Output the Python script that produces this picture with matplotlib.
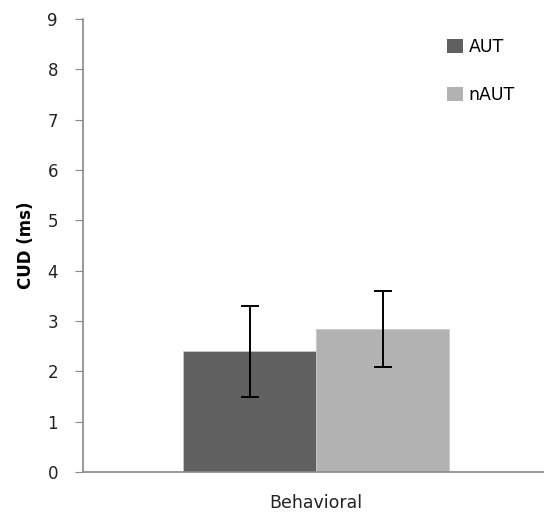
import matplotlib
matplotlib.use("Agg")
import matplotlib.pyplot as plt
from matplotlib.patches import Patch

categories = ["Behavioral"]
series = ["AUT", "nAUT"]
means = [2.40, 2.84]
err_low = [1.49, 2.09]
err_high = [3.30, 3.60]
colors = ["#606060", "#b2b2b2"]

plt.rcParams['font.family'] = ['DejaVu Sans']

fig = plt.figure(figsize=(5.44, 5.16), dpi=100)
ax = fig.add_axes([83/544, 44/516, 461/544, 453/516])

w = 0.5
offsets = [-w/2, w/2]
for i, s in enumerate(series):
    yerr = [[means[i] - err_low[i]], [err_high[i] - means[i]]]
    ax.bar(offsets[i], means[i], width=w, color=colors[i], edgecolor="#c8c8c8",
           linewidth=0.6, label=s)
    ax.errorbar(offsets[i], means[i], yerr=yerr, fmt='none', ecolor='black',
                elinewidth=1.4, capsize=6.5, capthick=1.4)

ax.set_xlim(-233/266, 228/266)
ax.set_ylim(0, 9)
ax.set_yticks(range(0, 10))
ax.set_xticks([0])
ax.set_xticklabels(categories, fontsize=12.5, color='#222222')
ax.tick_params(axis='x', length=0, pad=16)
ax.tick_params(axis='y', length=6, color='#888888', labelsize=12, labelcolor='#222222',
               pad=12, direction='out')
for sp in ['top', 'right']:
    ax.spines[sp].set_visible(False)
for sp in ['left', 'bottom']:
    ax.spines[sp].set_color('#888888')
    ax.spines[sp].set_linewidth(1.2)
ax.set_ylabel("CUD (ms)", fontsize=12, fontweight='semibold', labelpad=9)

handles = [Patch(facecolor=c, edgecolor='none') for c in colors]
ax.legend(handles, series, loc='upper left', bbox_to_anchor=((447-83)/461 - 0.034, 0.993),
          frameon=False, fontsize=12.5, handlelength=0.9, handleheight=0.9,
          handletextpad=0.35, labelspacing=1.75)

fig.savefig("out.png", dpi=100)
